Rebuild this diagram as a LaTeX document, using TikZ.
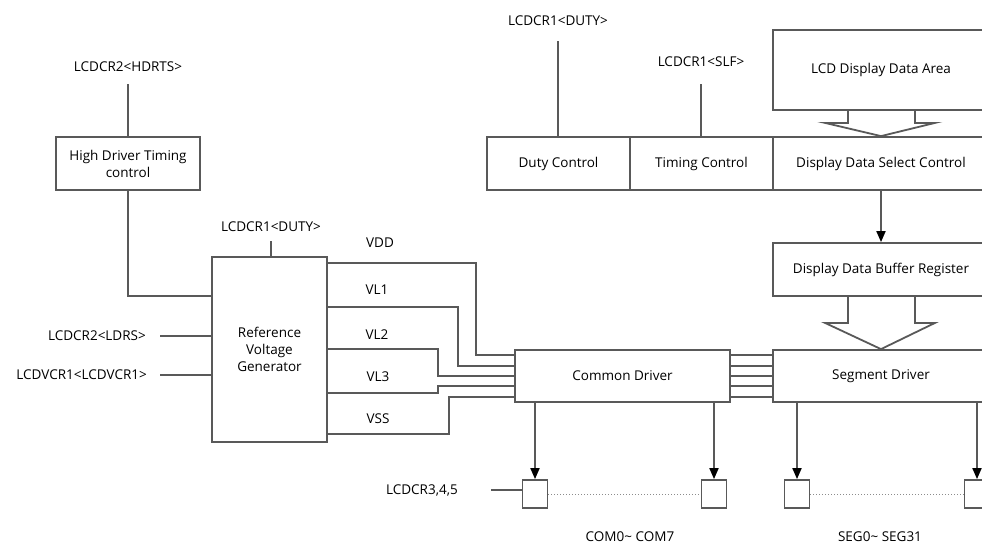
\documentclass[tikz,border=0pt]{standalone}
\usepackage{fontspec}
\setmainfont{Open Sans}
\usetikzlibrary{positioning,calc,arrows.meta}

\begin{document}
\begin{tikzpicture}[x=1pt, y=-1pt,
  every node/.style={inner sep=0pt, font=\fontsize{13.5}{17}\selectfont},
  blk/.style={draw=black!65, line width=1.8pt, minimum height=53pt, align=center},
  wire/.style={draw=black!65, line width=1.8pt},
  arr/.style={wire, -{Triangle[length=11pt, width=9pt, color=black]}},
  pad/.style={draw=black!65, line width=1.8pt, minimum width=25pt, minimum height=28pt}]
\useasboundingbox (0,0) rectangle (982,547);

% blocks
\node[blk, minimum width=144pt] (hdtc) at (128,163.5) {High Driver Timing\\control};
\node[blk, minimum width=115pt, minimum height=185pt] (rvg) at (269.5,349.5) {Reference\\Voltage\\Generator};
\node[blk, minimum width=143pt] (duty) at (558.5,163.5) {Duty Control};
\node[blk, minimum width=143pt] (timing) at (701.5,163.5) {Timing Control};
\node[blk, minimum width=216pt] (ddsc) at (881,163.5) {Display Data Select Control};
\node[blk, minimum width=216pt, minimum height=80pt] (area) at (881,70) {LCD Display Data Area};
\node[blk, minimum width=216pt] (ddbr) at (881,269.5) {Display Data Buffer Register};
\node[blk, minimum width=215pt, minimum height=52pt] (common) at (622.5,376) {Common Driver};
\node[blk, minimum width=216pt, minimum height=52pt] (segment) at (881,376) {Segment Driver};

% output pads
\node[pad] (c0) at (535,494) {};
\node[pad] (c7) at (714,494) {};
\node[pad] (s0) at (797,494) {};
\node[pad] (s31) at (977,494) {};
\node (comlbl) at (630,537) {COM0\textasciitilde{} COM7};
\node (seglbl) at (880,537) {SEG0\textasciitilde{} SEG31};

% register inputs
\coordinate (hdrtsin) at (128,84);
\node[above=12pt of hdrtsin] (hdrts) {LCDCR2<HDRTS>};
\coordinate (duty1in) at (558,41);
\node[above=15pt of duty1in] (duty1) {LCDCR1<DUTY>};
\coordinate (slfin) at (701,84);
\node[above=17pt of slfin] (slf) {LCDCR1<SLF>};
\coordinate (duty2in) at (271,241);
\node[above=9pt of duty2in] (duty2) {LCDCR1<DUTY>};
\coordinate (ldrsin) at (160,336);
\node[left=14pt of ldrsin] (ldrs) {LCDCR2<LDRS>};
\coordinate (vcrin) at (160,375);
\node[left=13pt of vcrin] (vcr) {LCDVCR1<LCDVCR1>};
\coordinate (lcdcr3in) at (491,490);
\node[left=33pt of lcdcr3in] (lcdcr3) {LCDCR3,4,5};

\draw[wire] (hdrtsin) -- (hdrtsin |- hdtc.north);
\draw[wire] (hdtc.south) |- ($(rvg.north west)+(0,40)$);
\draw[wire] (duty2in) -- (duty2in |- rvg.north);
\draw[wire] (ldrsin) -- (ldrsin -| rvg.west);
\draw[wire] (vcrin) -- (vcrin -| rvg.west);
\draw[wire] (duty1in) -- (duty1in |- duty.north);
\draw[wire] (slfin) -- (slfin |- timing.north);
\draw[wire] (lcdcr3in) -- (lcdcr3in -| c0.west);

% voltage levels
\node (vdd) at (380,243) {VDD};
\node (vl1) at (377,290) {VL1};
\node (vl2) at (377,335) {VL2};
\node (vl3) at (378,377) {VL3};
\node (vss) at (378,419) {VSS};
\foreach \ya/\xb/\yb in {263/476/355, 307/458/366, 349/438/376, 393/438/386, 434/449/397}
  \draw[wire] (rvg.east |- 0,\ya) -| (\xb,\yb) -- (common.west |- 0,\yb);
\foreach \y in {355,366,376,386,397}
  \draw[wire] (common.east |- 0,\y) -- (segment.west |- 0,\y);

% data paths
\draw[wire] ($(area.south)+(-33,0)$) -- ++(0,12) -- ++(-23,0) -- (ddsc.north)
  -- ($(area.south)+(54,12)$) -- ++(-20,0) -- ++(0,-12);
\draw[arr] (ddsc.south) -- (ddbr.north);
\draw[wire] ($(ddbr.south)+(-33,0)$) -- ++(0,26) -- ++(-23,0) -- (segment.north)
  -- ($(ddbr.south)+(54,26)$) -- ++(-20,0) -- ++(0,-26);

\foreach \b/\p in {common/c0, common/c7, segment/s0, segment/s31}
  \draw[arr] (\b.south -| \p) -- (\p);
\draw[black!45, line width=1pt, dotted] (c0) -- (c7);
\draw[black!45, line width=1pt, dotted] (s0) -- (s31);
\end{tikzpicture}
\end{document}
